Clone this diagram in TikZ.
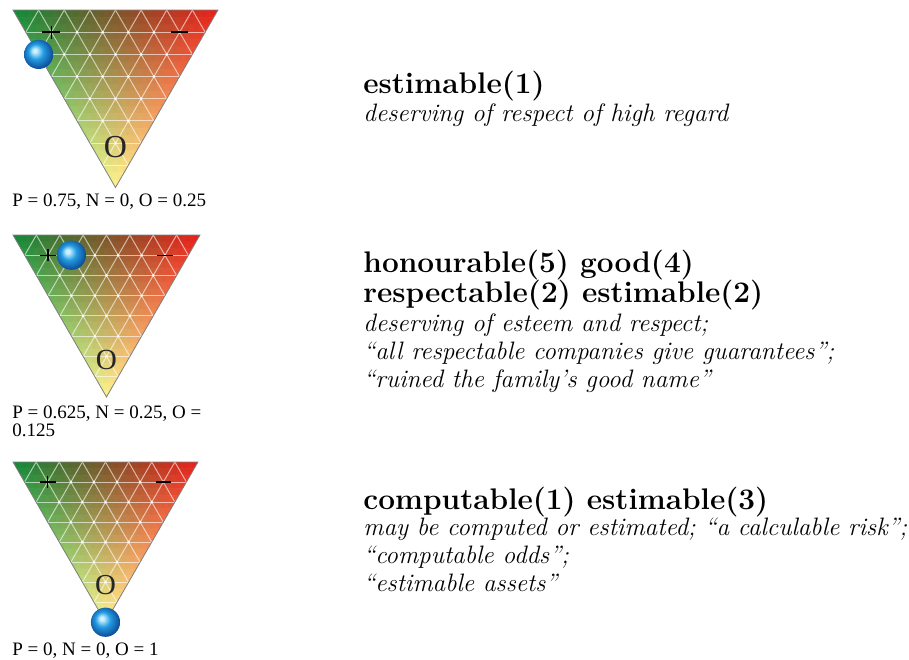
\documentclass[tikz,border=0pt]{standalone}
\usepackage{fontspec}
\newfontfamily\labfont{Liberation Serif}
\definecolor{orbhi}{RGB}{205,242,255}
\definecolor{orbmid}{RGB}{35,155,225}
\definecolor{orbdark}{RGB}{12,75,150}
\pgfdeclareradialshading{orb}{\pgfpoint{-7bp}{7bp}}{%
  color(0bp)=(orbhi); color(3bp)=(orbhi); color(13bp)=(orbmid); color(27bp)=(orbdark); color(40bp)=(orbdark)}
\tikzset{
  headtext/.style={font=\fontsize{14.9}{17}\selectfont\bfseries, anchor=base west, inner sep=0pt},
  glosstext/.style={font=\fontsize{12.6}{14}\selectfont\itshape, anchor=base west, inner sep=0pt},
  valtext/.style={font=\labfont\fontsize{9.5}{11}\selectfont, anchor=base west, inner sep=0pt},
  gridline/.style={white, opacity=0.6, line width=0.5pt},
  rimline/.style={black!50, line width=0.4pt},
}
\newcommand\mixcol{%
  \pgfmathsetmacro\wP{1-\wN-\wO}%
  \pgfmathsetmacro\cR{\wP*0.06+\wN*0.91+\wO*0.99}%
  \pgfmathsetmacro\cG{\wP*0.54+\wN*0.12+\wO*0.96}%
  \pgfmathsetmacro\cB{\wP*0.22+\wN*0.10+\wO*0.56}%
  \definecolor{tc}{rgb}{\cR,\cG,\cB}}
% #1 ax, #2 ay, #3 side, #4 n, #5 o, #6 name
\newcommand\opinion[6]{%
\begin{scope}[shift={(#1,#2)}]
\pgfmathsetmacro\tS{#3}
\pgfmathsetmacro\tH{#3*0.8660254}
\pgfmathsetmacro\tU{#3/205}
\pgfmathsetmacro\tLW{0.8*\tU}
\coordinate (#6A) at (0,0);
\coordinate (#6B) at (\tS,0);
\coordinate (#6C) at ({\tS/2},\tH);
\begin{scope}
\clip (#6A) -- (#6B) -- (#6C) -- cycle;
\foreach \j in {0,...,23}{%
  \pgfmathtruncatemacro\imax{23-\j}
  \foreach \i in {0,...,\imax}{%
    \pgfmathsetmacro\wN{(\i+1/3)/24}
    \pgfmathsetmacro\wO{(\j+1/3)/24}
    \mixcol
    \fill[tc, draw=tc, line width=0.3pt] ({\tS*(\i+\j/2)/24},{\tH*\j/24}) -- ({\tS*(\i+1+\j/2)/24},{\tH*\j/24}) -- ({\tS*(\i+(\j+1)/2)/24},{\tH*(\j+1)/24}) -- cycle;
    \ifnum\i<\imax
      \pgfmathsetmacro\wN{(\i+2/3)/24}
      \pgfmathsetmacro\wO{(\j+2/3)/24}
      \mixcol
      \fill[tc, draw=tc, line width=0.3pt] ({\tS*(\i+1+\j/2)/24},{\tH*\j/24}) -- ({\tS*(\i+(\j+1)/2)/24},{\tH*(\j+1)/24}) -- ({\tS*(\i+1+(\j+1)/2)/24},{\tH*(\j+1)/24}) -- cycle;
    \fi
  }
}
\foreach \k in {1,...,7}{%
  \draw[gridline] ({\tS*\k/16},{\tH*\k/8}) -- ({\tS*(1-\k/16)},{\tH*\k/8});
  \draw[gridline] ({\tS*\k/8},0) -- ({\tS*(\k/16+1/2)},{\tH*(8-\k)/8});
  \draw[gridline] ({\tS*\k/8},0) -- ({\tS*\k/16},{\tH*\k/8});
}
\foreach \j in {1,...,6}{%
  \pgfmathtruncatemacro\imax{7-\j}
  \foreach \i in {1,...,\imax}{%
    \fill[white, opacity=0.85] ({\tS*(\i+\j/2)/8},{\tH*\j/8}) circle[radius=0.75pt];
  }
}
\end{scope}
\draw[rimline] (#6A) -- (#6B) -- (#6C) -- cycle;
\draw[black, line width=\tLW pt] ({\tS*1.5/8-9*\tU},{\tH/8}) -- ({\tS*1.5/8+9*\tU},{\tH/8})
  ({\tS*1.5/8},{\tH/8-6.5*\tU}) -- ({\tS*1.5/8},{\tH/8+6.5*\tU});
\draw[black, line width=\tLW pt] ({\tS*6.5/8-8.5*\tU},{\tH/8}) -- ({\tS*6.5/8+8.5*\tU},{\tH/8});
\pgfmathsetmacro\tOS{16*\tU}
\node[inner sep=0pt, text=black!85, font=\labfont\fontsize{\tOS}{\tOS}\selectfont] (#6O) at ({\tS/2},{0.77*\tH}) {O};
\node[circle, inner sep=0pt, minimum size=14.6pt, shading=orb] (#6ball) at ({#4*\tS+#5*\tS/2},{#5*\tH}) {};
\end{scope}}
\begin{document}
\begin{tikzpicture}[x=0.5pt, y=-0.5pt]
\useasboundingbox (0,0) rectangle (909,659);
\opinion{13}{10}{205}{0}{0.25}{t1}
\opinion{13}{235}{187}{0.25}{0.125}{t2}
\opinion{13}{462}{185}{0}{1}{t3}
\node[valtext] (v1) at (12,206) {P = 0.75, N = 0, O = 0.25};
\node[valtext] (v2a) at (12,418) {P = 0.625, N = 0.25, O =};
\node[valtext] (v2b) at (12,436) {0.125};
\node[valtext] (v3) at (12,655) {P = 0, N = 0, O = 1};
\node[headtext] (h1) at (363,93) {estimable(1)};
\node[glosstext] (g1) at (363,121) {deserving of respect of high regard};
\node[headtext] (h2a) at (363,272) {honourable(5) good(4)};
\node[headtext] (h2b) at (363,302) {respectable(2) estimable(2)};
\node[glosstext] (g2a) at (363,331) {deserving of esteem and respect;};
\node[glosstext] (g2b) at (363,359) {“all respectable companies give guarantees”;};
\node[glosstext] (g2c) at (363,387) {“ruined the family’s good name”};
\node[headtext] (h3) at (363,509) {computable(1) estimable(3)};
\node[glosstext] (g3a) at (363,535) {may be computed or estimated; “a calculable risk”;};
\node[glosstext] (g3b) at (363,563) {“computable odds”;};
\node[glosstext] (g3c) at (363,591) {“estimable assets”};
\end{tikzpicture}
\end{document}
